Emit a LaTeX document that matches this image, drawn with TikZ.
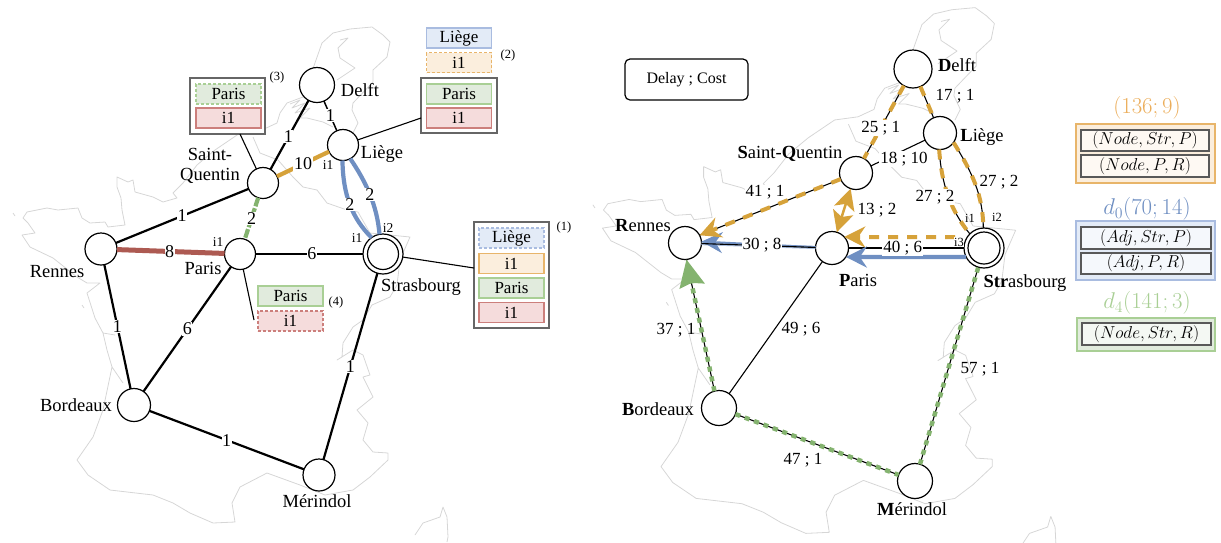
\documentclass[tikz,border=0pt]{standalone}
\usepackage[no-math]{fontspec}
\setmainfont{Liberation Serif}
\usetikzlibrary{arrows.meta}
\definecolor{cgold}{HTML}{D6A23A}
\definecolor{cblue}{HTML}{6F8FC2}
\definecolor{cgreen}{HTML}{84B36F}
\definecolor{cred}{HTML}{AD5A52}
\definecolor{fblue}{HTML}{E3EBF7}\definecolor{bblue}{HTML}{A9BCE0}
\definecolor{forange}{HTML}{FBEEDD}\definecolor{borange}{HTML}{E8B56A}
\definecolor{fgreen}{HTML}{E1EBDD}\definecolor{bgreen}{HTML}{A9CF95}
\definecolor{fred}{HTML}{F5DCDC}\definecolor{bred}{HTML}{CC7F7C}
\newcommand{\fs}[1]{\fontsize{#1}{#1}\selectfont}
\newcommand{\mapoutline}{%
 \draw[mapline] (13,213)--(15,216);
 \draw[mapline] (23,218)--(27,212)--(47,208)--(58,210)--(78,208)--(82,218)--(90,223)--(105,222)--(108,227)--(125,225)--(122,210)--(121,198)--(117,187)--(117,177)--(128,182)--(133,180)--(135,192)--(153,197)--(163,202)--(177,198)--(173,193)--(183,183)--(197,165)--(215,150)--(240,133)--(262,130)--(277,123)--(280,113)--(287,103)--(303,97)--(322,43)--(333,33)--(350,29)--(372,27)--(383,35)--(390,42)--(387,57)--(373,70)--(373,82)--(353,103)--(352,110)--(358,123)--(353,133);
 \draw[mapline] (340,40)--(348,38)--(338,48)--(340,58)--(355,68)--(337,80);
 \draw[mapline] (290,104)--(300,100)--(292,108)--(305,103)--(295,113)--(310,108)--(300,118)--(307,118)--(323,122)--(333,127);
 \draw[mapline] (253,137)--(260,153)--(278,160)--(293,177)--(303,187)--(317,190)--(327,203)--(347,210)--(358,212)--(370,233)--(410,237)--(400,260)--(397,285)--(390,297)--(372,305)--(363,320)--(353,327)--(343,343)--(342,357)--(337,360)--(353,350)--(363,355)--(370,375)--(363,377)--(373,397)--(357,410)--(368,423)--(363,440)--(373,452)--(388,453)--(388,460)--(370,477)--(353,490)--(325,495)--(300,485)--(267,473)--(240,487)--(232,503)--(235,522)--(213,523)--(190,513)--(173,503)--(153,495)--(110,490)--(88,475)--(77,460)--(93,437)--(103,410)--(112,367)--(123,383);
 \draw[mapline] (112,367)--(107,350)--(103,333)--(115,335);
 \draw[mapline] (82,305)--(84,308);
 \draw[mapline] (103,333)--(95,318)--(87,293)--(100,283)--(87,283)--(77,277)--(53,258)--(30,247)--(22,235)--(35,233)--(28,223)--(23,218);
 \draw[mapline] (415,535)--(423,523)--(440,517)--(443,507)--(447,517)--(448,537)--(447,542);
}
\tikzset{
 mapline/.style={draw=black!16,line width=.8pt,line join=round},
 circ/.style={circle,draw=black,fill=white,line width=1.2pt,inner sep=0pt,outer sep=0pt},
 txt/.style={inner sep=0pt,outer sep=0pt,font=\fs{18.5}},
 small/.style={inner sep=0pt,outer sep=0pt,font=\fs{13.5}},
 tiny/.style={inner sep=0pt,outer sep=0pt,font=\fs{12.5}},
 lab/.style={fill=white,inner sep=.6pt,font=\fs{18}},
 rlab/.style={fill=white,inner sep=1pt,font=\fs{17}},
 rtxt/.style={inner sep=0pt,font=\fs{17}},
 blk/.style={draw=black,line width=2.2pt},
 thin blk/.style={draw=black,line width=1.1pt},
 gdash/.style={draw=cgold,line width=4pt,dash pattern=on 10pt off 9pt},
 gsolid/.style={draw=cgold,line width=4.2pt},
 gdot/.style={draw=cgreen,line width=4.5pt,dash pattern=on 5pt off 5pt},
 tbox/.style={minimum width=65pt,minimum height=20pt,inner sep=0pt,outer sep=0pt,line width=1.1pt,font=\fs{17}},
 bluebox/.style={tbox,draw=bblue,fill=fblue},
 orgbox/.style={tbox,draw=borange,fill=forange},
 grnbox/.style={tbox,draw=bgreen,fill=fgreen},
 redbox/.style={tbox,draw=bred,fill=fred},
 dsh/.style={dash pattern=on 3pt off 2pt},
 frame/.style={draw=black!60,line width=1.4pt,fill=white,inner sep=0pt,outer sep=0pt},
 panel/.style={line width=1.4pt,inner sep=0pt,outer sep=0pt},
 cell/.style={draw=black!65,line width=1.3pt,inner sep=0pt,outer sep=0pt,font=\fs{17.28}},
 bighead/.style={-{Stealth[length=21pt,width=21pt,inset=7pt]}},
}
\begin{document}
\begin{tikzpicture}[x=1pt,y=-1pt]
\useasboundingbox (0,0) rectangle (1221,542);
\mapoutline
\begin{scope}[shift={(579,-21)},xscale=1.065,yscale=1.06]
\mapoutline
\end{scope}

% ---------- left graph: nodes
\node[circ,minimum size=35pt] (ld) at (317,85) {};
\node[circ,minimum size=31pt] (ll) at (343,145) {};
\node[circ,minimum size=31pt] (lq) at (263,183) {};
\node[circ,minimum size=31pt] (lp) at (240,254) {};
\node[circ,minimum size=32pt] (lr) at (101,249) {};
\node[circ,minimum size=33pt] (lb) at (134,405) {};
\node[circ,minimum size=32pt] (lm) at (319,475) {};
\node[circ,minimum size=40pt] (ls) at (383,254) {};
\node[circ,minimum size=31pt] (lsi) at (383,254) {};
% left edges
\draw[blk] (lq) -- node[lab,pos=.47] (e1) {1} (ld);
\draw[blk,line width=1.5pt] (ld) -- node[lab,pos=.5] (e2) {1} (ll);
\draw[gsolid] (lq) -- node[lab,pos=.5] (e3) {10} (ll);
\draw[blk] (lr) -- node[lab,pos=.5] (e4) {1} (lq);
\draw[draw=cgreen,line width=4.2pt,dash pattern=on 9pt off 2pt] (lq) -- node[lab,pos=.5] (e5) {2} (lp);
\draw[draw=cred,line width=5pt] (lr) -- node[lab,pos=.49] (e6) {8} (lp);
\draw[blk] (lp) -- node[lab,pos=.525] (e7) {6} (ls);
\draw[blk] (lr) -- node[lab,pos=.5] (e8) {1} (lb);
\draw[blk] (lp) -- node[lab,pos=.5] (e9) {6} (lb);
\draw[blk] (lb) -- node[lab,pos=.5] (e10) {1} (lm);
\draw[blk] (ls) -- node[lab,pos=.5] (e11) {1} (lm);
\draw[draw=cblue,line width=4.2pt] (ll.-92) .. controls (343,195) and (352,218) .. node[lab,pos=.5] (e12) {2} (ls.125);
\draw[draw=cblue,line width=4.2pt] (ll.-62) .. controls (366,182) and (377,205) .. node[lab,pos=.5] (e13) {2} (ls.100);
% left labels
\node[txt] (t1) at (360,90) {Delft};
\node[txt] (t2) at (382,154) {Liège};
\node[txt,align=center] (t3) at (210,166) {Saint-\\[2pt]Quentin};
\node[txt] (t4) at (203,268) {Paris};
\node[txt] (t5) at (57,272) {Rennes};
\node[txt] (t6) at (76,405) {Bordeaux};
\node[txt] (t7) at (317,501) {Mérindol};
\node[txt] (t8) at (421,287) {Strasbourg};
\node[small] (t9) at (328,165) {i1};
\node[small] (t10) at (218,242) {i1};
\node[small] (t11) at (357,238) {i1};
\node[small] (t12) at (388,228) {i2};
% left boxes
\node[frame,minimum width=75pt,minimum height=56pt] (f3) at (227.5,106) {};
\node[grnbox,dsh] (b31) at (228.5,94) {Paris};
\node[redbox] (b32) at (228.5,118) {i1};
\node[tiny] (n3) at (277,77) {(3)};
\node[bluebox] (b21) at (459,38) {Liège};
\node[orgbox,dsh] (b22) at (459,62.5) {i1};
\node[tiny] (n2) at (508,55) {(2)};
\node[frame,minimum width=76pt,minimum height=55pt] (f2) at (459,105.5) {};
\node[grnbox] (b23) at (459,94) {Paris};
\node[redbox] (b24) at (459,118) {i1};
\node[frame,minimum width=75pt,minimum height=106pt] (f1) at (511.5,275) {};
\node[bluebox,dsh] (b11) at (511.5,238) {Liège};
\node[orgbox] (b12) at (511.5,263.5) {i1};
\node[grnbox] (b13) at (511.5,288) {Paris};
\node[redbox] (b14) at (511.5,312.5) {i1};
\node[tiny] (n1) at (564,227) {(1)};
\node[grnbox] (b41) at (290.5,296) {Paris};
\node[redbox,dsh] (b42) at (290.5,321) {i1};
\node[tiny] (n4) at (336,302) {(4)};
\coordinate (c4) at (254,320);
\draw[thin blk] (f3.south west) ++(50,0) -- (lq);
\draw[thin blk] (f2.west |- 0,118) -- (ll);
\draw[thin blk] (f1.west |- 0,268) -- (ls);
\draw[thin blk] (lp) -- (c4);

% ---------- right graph: nodes
\node[circ,minimum size=38pt] (rd) at (913,69) {};
\node[circ,minimum size=33pt] (rl) at (940,133) {};
\node[circ,minimum size=33pt] (rq) at (856,173) {};
\node[circ,minimum size=33pt] (rp) at (832,248) {};
\node[circ,minimum size=33pt] (rr) at (685,243) {};
\node[circ,minimum size=35pt] (rb) at (719,408) {};
\node[circ,minimum size=35pt] (rm) at (915,481) {};
\node[circ,minimum size=40pt] (rs) at (984,248) {};
\node[circ,minimum size=32pt] (rsi) at (984,248) {};
% black edges
\draw[draw=cblue!60,line width=3.2pt] (rp) -- (rr);
\draw[-{Stealth[length=21pt,width=21pt,inset=7pt]},draw=cblue,line width=2pt] (rp) -- (rr.5);
\draw[thin blk] (rd) -- (rq);
\draw[thin blk] (rd) -- (rl);
\draw[thin blk] (rq) -- (rl);
\draw[thin blk] (rq) -- (rr.28);
\draw[thin blk] (rp) -- (rr);
\draw[thin blk] (rs) -- (rp);
\draw[thin blk] (rp) -- (rb);
\draw[thin blk] (rb.105) -- (rr.-85);
\draw[thin blk] (rb) -- (rm);
\draw[thin blk] (rm) -- (rs);
\draw[thin blk] (rl.-93) .. controls (941,175) and (946,205) .. (rs.135);
\draw[thin blk] (rl.-35) .. controls (972,172) and (983,195) .. (rs.92);
% coloured paths
\draw[gdash] (rd) -- (rq);
\draw[gdash] (rd) -- (rl);
\draw[gdash,bighead] (rq) -- (rr.28);
\draw[gdash] (rl.-93) .. controls (941,175) and (946,205) .. (rs.135);
\draw[gdash] (rl.-35) .. controls (972,172) and (983,195) .. (rs.92);
\draw[draw=cgold,line width=2.5pt,{Stealth[length=21pt,width=21pt,inset=5pt]}-{Stealth[length=21pt,width=21pt,inset=5pt]}] (rq.-109) -- (rp.73);
\draw[gdot] (rb) -- (rm);
\draw[gdot] (rm) -- (rs);
\draw[gdot,-{Stealth[length=27pt,width=25pt,inset=3pt]}] (rb.105) -- (rr.-85);
\draw[gdash,bighead] (rs.147) ++(-12,0) -- (rp.42);
\draw[draw=cblue,line width=4.2pt,bighead] (rs.207) -- (rp.-33);
% right edge labels
\path (rd) -- node[rlab,pos=.58] (g1) {25 ; 1} (rq);
\path (rp) -- node[rlab,pos=.47] (g3) {30 ; 8} (rr);
\path (rs) -- node[rlab,pos=.53] (g4) {40 ; 6} (rp);
\node[rlab] (g2) at (904,159) {18 ; 10};
\node[rlab] (g5) at (935,197) {27 ; 2};
\node[rtxt] (g6) at (955,96) {17 ; 1};
\node[rtxt] (g7) at (999,182) {27 ; 2};
\node[rtxt] (g8) at (877,210) {13 ; 2};
\node[rlab,inner sep=.5pt] (g9) at (765,192) {41 ; 1};
\node[rtxt] (g10) at (676,330) {37 ; 1};
\node[rtxt] (g11) at (801,329) {49 ; 6};
\node[rtxt] (g12) at (803,460) {47 ; 1};
\node[rtxt] (g13) at (980,369) {57 ; 1};
\node[txt] (r1) at (957,65) {\textbf{D}elft};
\node[txt] (r2) at (982,137) {\textbf{L}iège};
\node[txt] (r3) at (790,154) {\textbf{S}aint-\textbf{Q}uentin};
\node[txt] (r4) at (858,280) {\textbf{P}aris};
\node[txt] (r5) at (1025,283) {\textbf{Str}asbourg};
\node[txt] (r6) at (643,226) {\textbf{R}ennes};
\node[txt] (r7) at (658,409) {\textbf{B}ordeaux};
\node[txt] (r8) at (912,509) {\textbf{M}érindol};
\node[tiny] (r9) at (970,218) {i1};
\node[tiny] (r10) at (997,217) {i2};
\node[tiny,fill=white,inner sep=.5pt] (r11) at (959,242) {i3};
% legend
\node[draw=black,line width=1.2pt,rounded corners=5pt,minimum width=123pt,minimum height=41pt,font=\fs{16}] (dc) at (686.5,79.5) {Delay ; Cost};
\node[font=\fs{20.74},text=borange!85!orange,inner sep=0pt] (h1) at (1147,108) {\scalebox{1.1}{$(136;9)$}};
\node[panel,draw=borange,fill=forange,minimum width=139pt,minimum height=59pt] (p1) at (1145.5,153.5) {};
\node[cell,fill=forange!35,minimum width=128pt,minimum height=21pt] (k1) at (1145,140.5) {$(Node,Str,P)$};
\node[cell,fill=forange!35,minimum width=128pt,minimum height=22pt] (k2) at (1145,166) {$(Node,P,R)$};
\node[font=\fs{20.74},text=cblue,inner sep=0pt] (h2) at (1147,209) {\scalebox{1.1}{$d_0(70;14)$}};
\node[panel,draw=bblue,fill=fblue,minimum width=139pt,minimum height=59pt] (p2) at (1145.5,250.5) {};
\node[cell,fill=fblue!35,minimum width=130pt,minimum height=22pt] (k3) at (1146,238) {$(Adj,Str,P)$};
\node[cell,fill=fblue!35,minimum width=130pt,minimum height=21pt] (k4) at (1146,263.5) {$(Adj,P,R)$};
\node[font=\fs{20.74},text=bgreen,inner sep=0pt] (h3) at (1147,303) {\scalebox{1.1}{$d_4(141;3)$}};
\node[panel,draw=bgreen,fill=fgreen,minimum width=138pt,minimum height=33pt] (p3) at (1146,334.5) {};
\node[cell,fill=fgreen!35,minimum width=129pt,minimum height=22pt] (k5) at (1146.5,334) {$(Node,Str,R)$};
\end{tikzpicture}
\end{document}
